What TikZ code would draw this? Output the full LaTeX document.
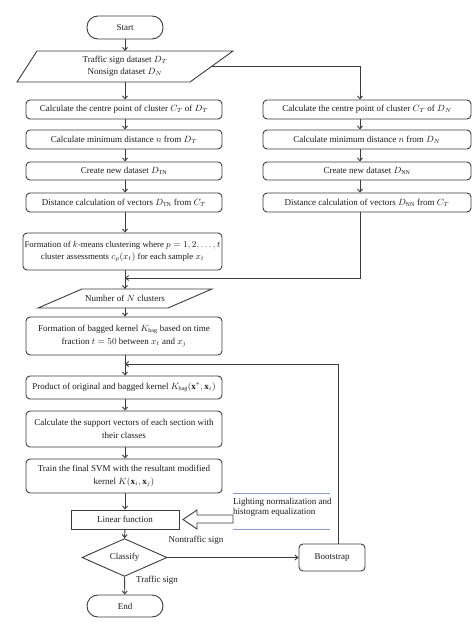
\documentclass[tikz,border=0pt]{standalone}
\usepackage{fontspec}
\setmainfont{Liberation Serif}
\usetikzlibrary{arrows.meta,shapes.geometric}
\definecolor{lc}{HTML}{3C3C3C}
\definecolor{tc}{HTML}{1A1A1A}
\definecolor{bl}{HTML}{8C9CC8}
\begin{document}
\begin{tikzpicture}[x=1pt,y=-1pt,
  every node/.style={font=\fontsize{9}{12.5}\selectfont, text=tc},
  box/.style={draw=lc, line width=0.9pt, rounded corners=4pt, minimum width=196pt, inner sep=0.5pt, align=center},
  rbox/.style={box, minimum width=208pt},
  term/.style={draw=lc, line width=0.9pt, rounded corners=11pt, minimum width=76pt, minimum height=23pt},
  conn/.style={draw=lc, line width=0.9pt, -{Straight Barb[length=3pt,width=5pt]}},
  plain/.style={draw=lc, line width=0.9pt}]
\useasboundingbox (0,0) rectangle (474,634);

% start and input data
\node[term] (start) at (125,27.5) {Start};
\draw[plain] (37,51) -- (233,51) -- (190,82) -- (17,82) -- cycle;
\node[align=center, inner sep=0] (data) at (125,66.5) {Traffic sign dataset $D_T$\\Nonsign dataset $D_N$};
\coordinate (dataN) at (125,51);
\coordinate (dataS) at (125,82);
\coordinate (dataE) at (211.5,66.5);
\coordinate (rx) at (360,0);
\coordinate (bx) at (338,0);

% left column
\node[box, minimum height=19pt] (l1) at (124,109.5) {Calculate the centre point of cluster $C_T$ of $D_T$};
\node[box, minimum height=19pt] (l2) at (124,139.5) {Calculate minimum distance $n$ from $D_T$};
\node[box, minimum height=18pt] (l3) at (124,171) {Create new dataset $D_{\mathrm{TN}}$};
\node[box, minimum height=19pt] (l4) at (124,202.5) {Distance calculation of vectors $D_{\mathrm{TN}}$ from $C_T$};

% right column
\node[rbox, minimum height=19pt] (r1) at (367,109.5) {Calculate the centre point of cluster $C_T$ of $D_N$};
\node[rbox, minimum height=19pt] (r2) at (367,139.5) {Calculate minimum distance $n$ from $D_N$};
\node[rbox, minimum height=18pt] (r3) at (367,171) {Create new dataset $D_{\mathrm{NN}}$};
\node[rbox, minimum height=19pt] (r4) at (367,202.5) {Distance calculation of vectors $D_{\mathrm{NN}}$ from $C_T$};

% k-means
\node[box, minimum width=199pt, minimum height=37pt, font=\fontsize{8.8}{12.5}\selectfont] (km) at (122.5,251.5)
  {Formation of $k$-means clustering where $p = 1, 2, \ldots, t$\\cluster assessments $c_p(x_t)$ for each sample $x_t$};
\coordinate (j1) at (125,278);

% number of clusters
\draw[plain] (82,289) -- (212,289) -- (168,308) -- (38,308) -- cycle;
\node[inner sep=0] (ncl) at (125,298.5) {Number of $N$ clusters};
\coordinate (nclN) at (125,289);
\coordinate (nclS) at (125,308);

% kernel steps
\node[box, minimum height=38pt] (bag) at (124,336)
  {Formation of bagged kernel $K_{\mathrm{bag}}$ based on time\\fraction $t = 50$ between $x_t$ and $x_j$};
\coordinate (j2) at (125,364);
\node[box, minimum height=23pt] (prod) at (124,387.5)
  {Product of original and bagged kernel $K_{\mathrm{bag}}(\mathbf{x}^{*}, \mathbf{x}_i)$};
\node[box, minimum height=36pt] (sv) at (124,429)
  {Calculate the support vectors of each section with\\their classes};
\node[box, minimum height=34pt] (train) at (124,476)
  {Train the final SVM with the resultant modified\\kernel $K(\mathbf{x}_i, \mathbf{x}_j)$};
\node[draw=lc, line width=0.9pt, minimum width=108pt, minimum height=19pt] (lin) at (125,519.5) {Linear function};
\node[diamond, draw=lc, line width=0.9pt, minimum width=85pt, minimum height=27pt, inner sep=0] (cls) at (124.5,557.5) {Classify};
\node[box, minimum width=66pt, minimum height=27pt] (boot) at (332,557.5) {Bootstrap};
\node[term, minimum height=22pt] (end) at (125,606) {End};

% preprocessing note
\draw[plain, fill=white] (233,515) -- (197,515) -- (197,510) -- (183,519.5) -- (197,529) -- (197,523) -- (233,523) -- cycle;
\node[anchor=west, align=left, inner sep=0, font=\fontsize{9}{10.5}\selectfont] (lt) at (233,507.5)
  {Lighting normalization and\\histogram equalization};
\draw[bl, line width=0.9pt] (233,493) -- (330,493);
\draw[bl, line width=0.9pt] (233,529) -- (330,529);

% labels
\node (nts) at (196,540) {Nontraffic sign};
\node (ts) at (157,580) {Traffic sign};

% connectors
\draw[conn] (start) -- (dataN);
\draw[conn] (dataS) -- (l1.north -| start);
\draw[conn] (l1.south -| start) -- (l2.north -| start);
\draw[conn] (l2.south -| start) -- (l3.north -| start);
\draw[conn] (l3.south -| start) -- (l4.north -| start);
\draw[conn] (l4.south -| start) -- (km.north -| start);
\draw[conn] (dataE) -| (r1.north -| rx);
\draw[conn] (r1.south -| rx) -- (r2.north -| rx);
\draw[conn] (r2.south -| rx) -- (r3.north -| rx);
\draw[conn] (r3.south -| rx) -- (r4.north -| rx);
\draw[conn] (r4.south -| rx) |- (j1);
\draw[conn] (km.south -| start) -- (nclN);
\draw[conn] (nclS) -- (bag.north -| start);
\draw[conn] (bag.south -| start) -- (prod.north -| start);
\draw[conn] (boot.north -| bx) |- (j2);
\draw[conn] (prod.south -| start) -- (sv.north -| start);
\draw[conn] (sv.south -| start) -- (train.north -| start);
\draw[conn] (train.south -| start) -- (lin.north -| start);
\draw[conn] (lin.south -| start) -- (cls.north);
\draw[conn] (cls.east) -- (boot.west);
\draw[conn] (cls.south) -- (end);
\end{tikzpicture}
\end{document}
